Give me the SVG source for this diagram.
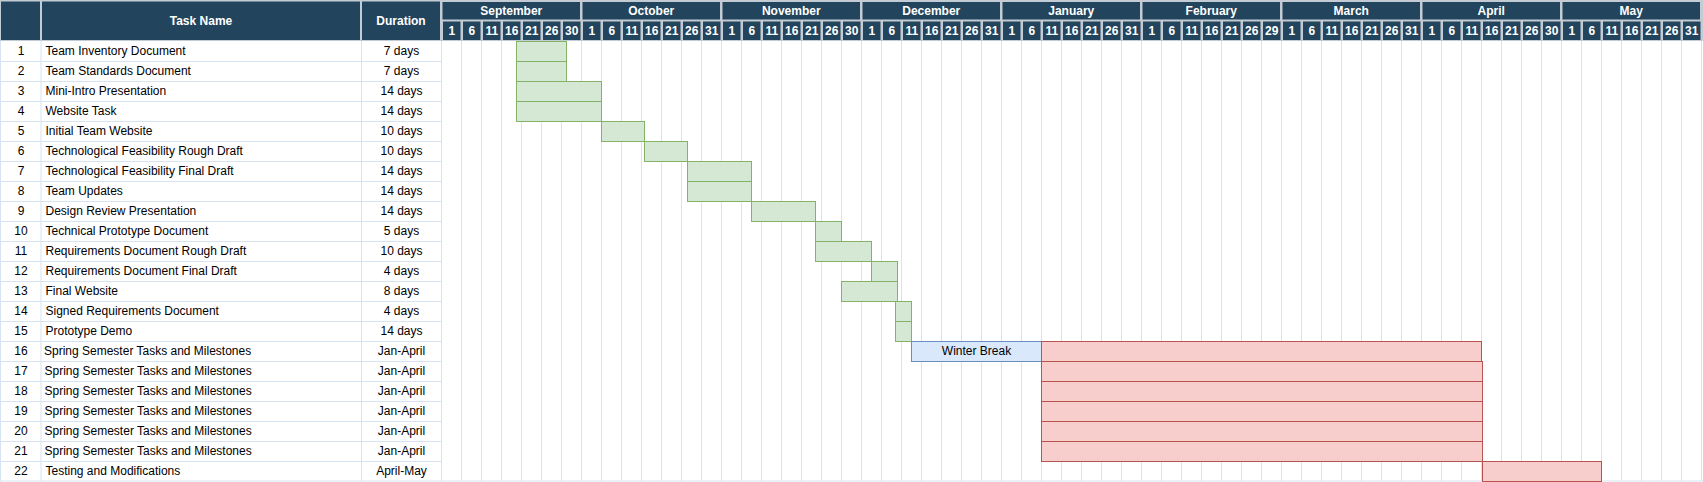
<svg xmlns="http://www.w3.org/2000/svg" width="1703" height="482" viewBox="0 0 1703 482">
<style>
.hd{fill:#23445d}
.ht{font-family:"Liberation Sans",Arial,sans-serif;font-size:12px;font-weight:bold;fill:#ffffff;text-anchor:middle}
.t{font-family:"Liberation Sans",Arial,sans-serif;font-size:12px;fill:#000000}
.c{text-anchor:middle}
.grid{stroke:#d6e3f3;stroke-width:1;fill:none}
.g{fill:#d5e8d4;stroke:#82b366;stroke-width:1}
.r{fill:#f8cecc;stroke:#b85450;stroke-width:1}
.b{fill:#dae8fc;stroke:#6c8ebf;stroke-width:1}
</style>
<rect x="0" y="0" width="1703" height="482" fill="#ffffff"/>
<g id="header">
<rect x="0" y="0" width="1703" height="41" fill="#c3ccd5"/>
<rect class="hd" x="1" y="1.5" width="39" height="38.5"/>
<rect class="hd" x="42" y="1.5" width="318" height="38.5"/>
<rect class="hd" x="362" y="1.5" width="78" height="38.5"/>
<text class="ht" x="201" y="25.3">Task Name</text>
<text class="ht" x="401" y="25.3">Duration</text>
<g id="months">
<rect class="hd" x="442.5" y="2" width="137.5" height="17.5"/>
<rect class="hd" x="582.5" y="2" width="137.5" height="17.5"/>
<rect class="hd" x="722.5" y="2" width="137.5" height="17.5"/>
<rect class="hd" x="862.5" y="2" width="137.5" height="17.5"/>
<rect class="hd" x="1002.5" y="2" width="137.5" height="17.5"/>
<rect class="hd" x="1142.5" y="2" width="137.5" height="17.5"/>
<rect class="hd" x="1282.5" y="2" width="137.5" height="17.5"/>
<rect class="hd" x="1422.5" y="2" width="137.5" height="17.5"/>
<rect class="hd" x="1562.5" y="2" width="137.5" height="17.5"/>
<text class="ht" x="511.25" y="15.3">September</text>
<text class="ht" x="651.25" y="15.3">October</text>
<text class="ht" x="791.25" y="15.3">November</text>
<text class="ht" x="931.25" y="15.3">December</text>
<text class="ht" x="1071.25" y="15.3">January</text>
<text class="ht" x="1211.25" y="15.3">February</text>
<text class="ht" x="1351.25" y="15.3">March</text>
<text class="ht" x="1491.25" y="15.3">April</text>
<text class="ht" x="1631.25" y="15.3">May</text>
</g>
<g id="days">
<path class="hd" d="M443 21.5h17.5v18.5h-17.5z M463 21.5h17.5v18.5h-17.5z M483 21.5h17.5v18.5h-17.5z M503 21.5h17.5v18.5h-17.5z M523 21.5h17.5v18.5h-17.5z M543 21.5h17.5v18.5h-17.5z M563 21.5h17.5v18.5h-17.5z
M583 21.5h17.5v18.5h-17.5z M603 21.5h17.5v18.5h-17.5z M623 21.5h17.5v18.5h-17.5z M643 21.5h17.5v18.5h-17.5z M663 21.5h17.5v18.5h-17.5z M683 21.5h17.5v18.5h-17.5z M703 21.5h17.5v18.5h-17.5z
M723 21.5h17.5v18.5h-17.5z M743 21.5h17.5v18.5h-17.5z M763 21.5h17.5v18.5h-17.5z M783 21.5h17.5v18.5h-17.5z M803 21.5h17.5v18.5h-17.5z M823 21.5h17.5v18.5h-17.5z M843 21.5h17.5v18.5h-17.5z
M863 21.5h17.5v18.5h-17.5z M883 21.5h17.5v18.5h-17.5z M903 21.5h17.5v18.5h-17.5z M923 21.5h17.5v18.5h-17.5z M943 21.5h17.5v18.5h-17.5z M963 21.5h17.5v18.5h-17.5z M983 21.5h17.5v18.5h-17.5z
M1003 21.5h17.5v18.5h-17.5z M1023 21.5h17.5v18.5h-17.5z M1043 21.5h17.5v18.5h-17.5z M1063 21.5h17.5v18.5h-17.5z M1083 21.5h17.5v18.5h-17.5z M1103 21.5h17.5v18.5h-17.5z M1123 21.5h17.5v18.5h-17.5z
M1143 21.5h17.5v18.5h-17.5z M1163 21.5h17.5v18.5h-17.5z M1183 21.5h17.5v18.5h-17.5z M1203 21.5h17.5v18.5h-17.5z M1223 21.5h17.5v18.5h-17.5z M1243 21.5h17.5v18.5h-17.5z M1263 21.5h17.5v18.5h-17.5z
M1283 21.5h17.5v18.5h-17.5z M1303 21.5h17.5v18.5h-17.5z M1323 21.5h17.5v18.5h-17.5z M1343 21.5h17.5v18.5h-17.5z M1363 21.5h17.5v18.5h-17.5z M1383 21.5h17.5v18.5h-17.5z M1403 21.5h17.5v18.5h-17.5z
M1423 21.5h17.5v18.5h-17.5z M1443 21.5h17.5v18.5h-17.5z M1463 21.5h17.5v18.5h-17.5z M1483 21.5h17.5v18.5h-17.5z M1503 21.5h17.5v18.5h-17.5z M1523 21.5h17.5v18.5h-17.5z M1543 21.5h17.5v18.5h-17.5z
M1563 21.5h17.5v18.5h-17.5z M1583 21.5h17.5v18.5h-17.5z M1603 21.5h17.5v18.5h-17.5z M1623 21.5h17.5v18.5h-17.5z M1643 21.5h17.5v18.5h-17.5z M1663 21.5h17.5v18.5h-17.5z M1683 21.5h17.5v18.5h-17.5z"/>
<text class="ht" x="451.75" y="35">1</text><text class="ht" x="471.75" y="35">6</text><text class="ht" x="491.75" y="35">11</text><text class="ht" x="511.75" y="35">16</text><text class="ht" x="531.75" y="35">21</text><text class="ht" x="551.75" y="35">26</text><text class="ht" x="571.75" y="35">30</text>
<text class="ht" x="591.75" y="35">1</text><text class="ht" x="611.75" y="35">6</text><text class="ht" x="631.75" y="35">11</text><text class="ht" x="651.75" y="35">16</text><text class="ht" x="671.75" y="35">21</text><text class="ht" x="691.75" y="35">26</text><text class="ht" x="711.75" y="35">31</text>
<text class="ht" x="731.75" y="35">1</text><text class="ht" x="751.75" y="35">6</text><text class="ht" x="771.75" y="35">11</text><text class="ht" x="791.75" y="35">16</text><text class="ht" x="811.75" y="35">21</text><text class="ht" x="831.75" y="35">26</text><text class="ht" x="851.75" y="35">30</text>
<text class="ht" x="871.75" y="35">1</text><text class="ht" x="891.75" y="35">6</text><text class="ht" x="911.75" y="35">11</text><text class="ht" x="931.75" y="35">16</text><text class="ht" x="951.75" y="35">21</text><text class="ht" x="971.75" y="35">26</text><text class="ht" x="991.75" y="35">31</text>
<text class="ht" x="1011.75" y="35">1</text><text class="ht" x="1031.75" y="35">6</text><text class="ht" x="1051.75" y="35">11</text><text class="ht" x="1071.75" y="35">16</text><text class="ht" x="1091.75" y="35">21</text><text class="ht" x="1111.75" y="35">26</text><text class="ht" x="1131.75" y="35">31</text>
<text class="ht" x="1151.75" y="35">1</text><text class="ht" x="1171.75" y="35">6</text><text class="ht" x="1191.75" y="35">11</text><text class="ht" x="1211.75" y="35">16</text><text class="ht" x="1231.75" y="35">21</text><text class="ht" x="1251.75" y="35">26</text><text class="ht" x="1271.75" y="35">29</text>
<text class="ht" x="1291.75" y="35">1</text><text class="ht" x="1311.75" y="35">6</text><text class="ht" x="1331.75" y="35">11</text><text class="ht" x="1351.75" y="35">16</text><text class="ht" x="1371.75" y="35">21</text><text class="ht" x="1391.75" y="35">26</text><text class="ht" x="1411.75" y="35">31</text>
<text class="ht" x="1431.75" y="35">1</text><text class="ht" x="1451.75" y="35">6</text><text class="ht" x="1471.75" y="35">11</text><text class="ht" x="1491.75" y="35">16</text><text class="ht" x="1511.75" y="35">21</text><text class="ht" x="1531.75" y="35">26</text><text class="ht" x="1551.75" y="35">30</text>
<text class="ht" x="1571.75" y="35">1</text><text class="ht" x="1591.75" y="35">6</text><text class="ht" x="1611.75" y="35">11</text><text class="ht" x="1631.75" y="35">16</text><text class="ht" x="1651.75" y="35">21</text><text class="ht" x="1671.75" y="35">26</text><text class="ht" x="1691.75" y="35">31</text>
</g>
</g>
<g id="grid">
<path class="grid" d="M0.5 41V481 M41 41V481 M361.5 41V481
M0 61.5H441.5 M0 81.5H441.5 M0 101.5H441.5 M0 121.5H441.5 M0 141.5H441.5 M0 161.5H441.5 M0 181.5H441.5 M0 201.5H441.5 M0 221.5H441.5 M0 241.5H441.5 M0 261.5H441.5 M0 281.5H441.5 M0 301.5H441.5 M0 321.5H441.5 M0 341.5H441.5 M0 361.5H441.5 M0 381.5H441.5 M0 401.5H441.5 M0 421.5H441.5 M0 441.5H441.5 M0 461.5H441.5 M0 481H1703
M441.5 41V481 M461.5 41V481 M481.5 41V481 M501.5 41V481 M521.5 41V481 M541.5 41V481 M561.5 41V481 M581.5 41V481 M601.5 41V481 M621.5 41V481 M641.5 41V481 M661.5 41V481 M681.5 41V481 M701.5 41V481 M721.5 41V481 M741.5 41V481 M761.5 41V481 M781.5 41V481 M801.5 41V481 M821.5 41V481 M841.5 41V481 M861.5 41V481 M881.5 41V481 M901.5 41V481 M921.5 41V481 M941.5 41V481 M961.5 41V481 M981.5 41V481 M1001.5 41V481 M1021.5 41V481 M1041.5 41V481 M1061.5 41V481 M1081.5 41V481 M1101.5 41V481 M1121.5 41V481 M1141.5 41V481 M1161.5 41V481 M1181.5 41V481 M1201.5 41V481 M1221.5 41V481 M1241.5 41V481 M1261.5 41V481 M1281.5 41V481 M1301.5 41V481 M1321.5 41V481 M1341.5 41V481 M1361.5 41V481 M1381.5 41V481 M1401.5 41V481 M1421.5 41V481 M1441.5 41V481 M1461.5 41V481 M1481.5 41V481 M1501.5 41V481 M1521.5 41V481 M1541.5 41V481 M1561.5 41V481 M1581.5 41V481 M1601.5 41V481 M1621.5 41V481 M1641.5 41V481 M1661.5 41V481 M1681.5 41V481 M1701.5 41V481"/>
</g>
<g id="rows" class="t">
<g id="row1"><text class="c" x="21" y="55.3">1</text><text x="45.5" y="55.3">Team Inventory Document</text><text class="c" x="401.5" y="55.3">7 days</text></g>
<g id="row2"><text class="c" x="21" y="75.3">2</text><text x="45.5" y="75.3">Team Standards Document</text><text class="c" x="401.5" y="75.3">7 days</text></g>
<g id="row3"><text class="c" x="21" y="95.3">3</text><text x="45.5" y="95.3">Mini-Intro Presentation</text><text class="c" x="401.5" y="95.3">14 days</text></g>
<g id="row4"><text class="c" x="21" y="115.3">4</text><text x="45.5" y="115.3">Website Task</text><text class="c" x="401.5" y="115.3">14 days</text></g>
<g id="row5"><text class="c" x="21" y="135.3">5</text><text x="45.5" y="135.3">Initial Team Website</text><text class="c" x="401.5" y="135.3">10 days</text></g>
<g id="row6"><text class="c" x="21" y="155.3">6</text><text x="45.5" y="155.3">Technological Feasibility Rough Draft</text><text class="c" x="401.5" y="155.3">10 days</text></g>
<g id="row7"><text class="c" x="21" y="175.3">7</text><text x="45.5" y="175.3">Technological Feasibility Final Draft</text><text class="c" x="401.5" y="175.3">14 days</text></g>
<g id="row8"><text class="c" x="21" y="195.3">8</text><text x="45.5" y="195.3">Team Updates</text><text class="c" x="401.5" y="195.3">14 days</text></g>
<g id="row9"><text class="c" x="21" y="215.3">9</text><text x="45.5" y="215.3">Design Review Presentation</text><text class="c" x="401.5" y="215.3">14 days</text></g>
<g id="row10"><text class="c" x="21" y="235.3">10</text><text x="45.5" y="235.3">Technical Prototype Document</text><text class="c" x="401.5" y="235.3">5 days</text></g>
<g id="row11"><text class="c" x="21" y="255.3">11</text><text x="45.5" y="255.3">Requirements Document Rough Draft</text><text class="c" x="401.5" y="255.3">10 days</text></g>
<g id="row12"><text class="c" x="21" y="275.3">12</text><text x="45.5" y="275.3">Requirements Document Final Draft</text><text class="c" x="401.5" y="275.3">4 days</text></g>
<g id="row13"><text class="c" x="21" y="295.3">13</text><text x="45.5" y="295.3">Final Website</text><text class="c" x="401.5" y="295.3">8 days</text></g>
<g id="row14"><text class="c" x="21" y="315.3">14</text><text x="45.5" y="315.3">Signed Requirements Document</text><text class="c" x="401.5" y="315.3">4 days</text></g>
<g id="row15"><text class="c" x="21" y="335.3">15</text><text x="45.5" y="335.3">Prototype Demo</text><text class="c" x="401.5" y="335.3">14 days</text></g>
<g id="row16"><text class="c" x="21" y="355.3">16</text><text x="44" y="355.3">Spring Semester Tasks and Milestones</text><text class="c" x="401.5" y="355.3">Jan-April</text></g>
<g id="row17"><text class="c" x="21" y="375.3">17</text><text x="44.5" y="375.3">Spring Semester Tasks and Milestones</text><text class="c" x="401.5" y="375.3">Jan-April</text></g>
<g id="row18"><text class="c" x="21" y="395.3">18</text><text x="44.5" y="395.3">Spring Semester Tasks and Milestones</text><text class="c" x="401.5" y="395.3">Jan-April</text></g>
<g id="row19"><text class="c" x="21" y="415.3">19</text><text x="44.5" y="415.3">Spring Semester Tasks and Milestones</text><text class="c" x="401.5" y="415.3">Jan-April</text></g>
<g id="row20"><text class="c" x="21" y="435.3">20</text><text x="44.5" y="435.3">Spring Semester Tasks and Milestones</text><text class="c" x="401.5" y="435.3">Jan-April</text></g>
<g id="row21"><text class="c" x="21" y="455.3">21</text><text x="44.5" y="455.3">Spring Semester Tasks and Milestones</text><text class="c" x="401.5" y="455.3">Jan-April</text></g>
<g id="row22"><text class="c" x="21" y="475.3">22</text><text x="45.5" y="475.3">Testing and Modifications</text><text class="c" x="401.5" y="475.3">April-May</text></g>
</g>
<g id="bars">
<rect id="bar1" class="g" x="516.5" y="41.5" width="50" height="20"/>
<rect id="bar2" class="g" x="516.5" y="61.5" width="50" height="20"/>
<rect id="bar3" class="g" x="516.5" y="81.5" width="85" height="20"/>
<rect id="bar4" class="g" x="516.5" y="101.5" width="85" height="20"/>
<rect id="bar5" class="g" x="601.5" y="121.5" width="43" height="20"/>
<rect id="bar6" class="g" x="644.5" y="141.5" width="43" height="20"/>
<rect id="bar7" class="g" x="687.5" y="161.5" width="64" height="20"/>
<rect id="bar8" class="g" x="687.5" y="181.5" width="64" height="20"/>
<rect id="bar9" class="g" x="751.5" y="201.5" width="64" height="20"/>
<rect id="bar10" class="g" x="815.5" y="221.5" width="26" height="20"/>
<rect id="bar11" class="g" x="815.5" y="241.5" width="56" height="20"/>
<rect id="bar12" class="g" x="871.5" y="261.5" width="26" height="20"/>
<rect id="bar13" class="g" x="841.5" y="281.5" width="56" height="20"/>
<rect id="bar14" class="g" x="895.5" y="301.5" width="16" height="20"/>
<rect id="bar15" class="g" x="895.5" y="321.5" width="16" height="20"/>
<g id="winter-break">
<rect class="b" x="911.5" y="341.5" width="130" height="20"/>
<text class="t c" x="976.5" y="355.3">Winter Break</text>
</g>
<rect id="bar16" class="r" x="1041.5" y="341.5" width="440" height="20"/>
<rect id="bar17" class="r" x="1041.5" y="361.5" width="441" height="20"/>
<rect id="bar18" class="r" x="1041.5" y="381.5" width="441" height="20"/>
<rect id="bar19" class="r" x="1041.5" y="401.5" width="441" height="20"/>
<rect id="bar20" class="r" x="1041.5" y="421.5" width="441" height="20"/>
<rect id="bar21" class="r" x="1041.5" y="441.5" width="441" height="20"/>
<rect id="bar22" class="r" x="1482.5" y="461.5" width="119" height="20"/>
</g>
</svg>
